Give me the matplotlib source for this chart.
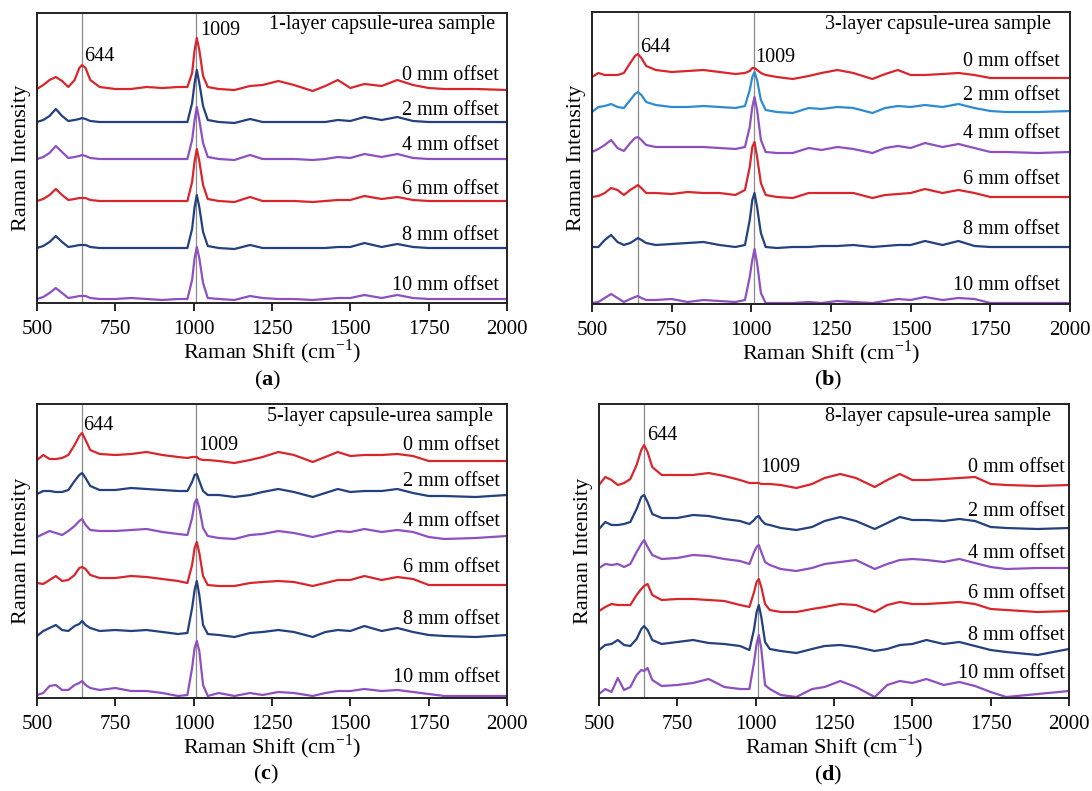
import matplotlib
matplotlib.use('Agg')
import matplotlib.pyplot as plt

plt.rcParams['font.family'] = ['Liberation Serif', 'DejaVu Serif']
plt.rcParams['mathtext.fontset'] = 'custom'
plt.rcParams['mathtext.rm'] = 'Liberation Serif'
plt.rcParams['mathtext.bf'] = 'Liberation Serif:bold'

# Raman shift knots (cm-1), shared by all spectra
shift = [500, 520, 540, 560, 580, 600, 620, 635, 644, 655, 670, 700, 750, 800,
         850, 900, 950, 980, 995, 1003, 1010, 1018, 1030, 1045, 1080, 1130,
         1180, 1220, 1270, 1320, 1380, 1420, 1460, 1500, 1545, 1600, 1650,
         1700, 1750, 1800, 1900, 2000]

offsets = ['0 mm offset', '2 mm offset', '4 mm offset',
           '6 mm offset', '8 mm offset', '10 mm offset']

# stacked intensities (arbitrary units), 0 mm ... 10 mm
spec_1layer = [
    [214, 218, 223, 226, 222, 216, 223, 235, 238, 235, 223, 216, 214, 214, 216, 215, 216, 216, 230, 253, 265, 253, 227, 216, 214, 213, 217, 218, 222, 218, 212, 217, 223, 215, 219, 217, 223, 218, 215, 214, 214, 213],
    [181, 183, 187, 194, 187, 182, 183, 184, 185, 184, 182, 181, 181, 181, 181, 181, 181, 181, 200, 220, 233, 220, 197, 183, 181, 180, 184, 181, 181, 181, 181, 181, 183, 182, 186, 183, 186, 182, 181, 181, 181, 181],
    [144, 146, 150, 157, 151, 145, 146, 147, 148, 147, 145, 144, 144, 144, 144, 144, 144, 144, 163, 183, 196, 183, 160, 146, 144, 143, 148, 144, 144, 144, 143, 144, 146, 145, 149, 146, 149, 145, 144, 144, 144, 144],
    [102, 104, 108, 114, 108, 103, 104, 105, 105, 105, 103, 102, 102, 102, 102, 102, 102, 102, 121, 142, 154, 142, 118, 104, 102, 101, 106, 102, 102, 102, 101, 102, 103, 103, 107, 104, 106, 103, 102, 102, 102, 102],
    [55, 57, 61, 67, 61, 56, 57, 58, 58, 58, 56, 55, 55, 55, 55, 55, 55, 55, 74, 96, 108, 96, 71, 57, 55, 54, 58, 55, 55, 55, 55, 55, 56, 56, 60, 56, 59, 56, 55, 55, 55, 55],
    [4, 6, 10, 15, 10, 5, 6, 7, 7, 7, 5, 4, 4, 5, 4, 3, 4, 4, 23, 45, 56, 45, 20, 5, 4, 3, 7, 5, 4, 4, 3, 4, 5, 5, 8, 5, 8, 5, 4, 4, 4, 4],
]
spec_3layer = [
    [227, 231, 229, 229, 229, 231, 241, 248, 250, 246, 238, 234, 232, 233, 234, 232, 230, 231, 233, 236, 236, 234, 231, 229, 227, 225, 228, 231, 234, 231, 225, 230, 234, 229, 229, 230, 231, 229, 226, 226, 226, 226],
    [192, 197, 198, 200, 197, 196, 204, 210, 212, 209, 202, 199, 197, 197, 198, 197, 196, 198, 214, 227, 232, 224, 204, 194, 192, 191, 196, 195, 197, 196, 191, 196, 198, 197, 199, 197, 200, 196, 193, 192, 192, 193],
    [152, 155, 159, 164, 156, 153, 161, 166, 167, 164, 159, 157, 157, 157, 157, 156, 155, 157, 177, 197, 207, 194, 164, 152, 151, 151, 156, 154, 157, 155, 151, 156, 158, 156, 161, 157, 160, 156, 152, 152, 151, 152],
    [107, 108, 111, 116, 114, 109, 114, 117, 119, 116, 111, 111, 110, 112, 111, 111, 109, 114, 137, 157, 162, 147, 121, 109, 107, 106, 111, 111, 111, 111, 106, 109, 110, 111, 115, 111, 114, 111, 107, 107, 107, 107],
    [57, 57, 64, 69, 62, 59, 61, 64, 66, 64, 61, 59, 60, 61, 62, 59, 57, 59, 84, 104, 111, 97, 71, 57, 56, 57, 57, 58, 58, 59, 57, 58, 59, 59, 63, 59, 63, 58, 57, 57, 57, 57],
    [1, 2, 6, 10, 6, 2, 5, 7, 8, 6, 4, 4, 5, 2, 4, 3, 2, 4, 27, 44, 55, 41, 11, 1, 1, 1, 2, 1, 3, 2, 1, 3, 5, 4, 7, 4, 6, 5, 1, 1, 1, 1],
]
spec_5layer = [
    [238, 243, 239, 239, 240, 243, 253, 262, 265, 258, 248, 244, 243, 244, 246, 243, 241, 240, 241, 241, 241, 239, 238, 238, 237, 235, 238, 241, 246, 243, 236, 241, 246, 242, 243, 243, 244, 242, 237, 237, 237, 237],
    [204, 207, 207, 206, 206, 208, 217, 223, 225, 220, 212, 208, 208, 210, 209, 208, 207, 207, 216, 223, 224, 217, 207, 203, 203, 201, 203, 206, 209, 206, 201, 205, 209, 206, 207, 207, 209, 205, 202, 202, 201, 203],
    [161, 164, 167, 165, 163, 167, 172, 177, 179, 173, 168, 167, 167, 168, 169, 166, 164, 163, 180, 195, 199, 190, 170, 162, 160, 159, 163, 164, 167, 165, 161, 164, 167, 166, 169, 166, 168, 166, 161, 159, 160, 162],
    [115, 114, 118, 122, 117, 118, 123, 130, 131, 129, 123, 120, 120, 122, 121, 119, 117, 115, 133, 150, 156, 145, 122, 113, 112, 112, 115, 116, 117, 116, 112, 115, 118, 118, 122, 118, 121, 119, 113, 113, 113, 113],
    [62, 67, 70, 73, 68, 67, 72, 74, 77, 73, 70, 67, 68, 67, 68, 66, 64, 65, 90, 108, 117, 103, 73, 64, 63, 61, 65, 66, 68, 66, 61, 66, 68, 67, 72, 67, 70, 66, 63, 62, 61, 63],
    [3, 5, 12, 13, 8, 8, 13, 15, 17, 13, 10, 8, 10, 7, 7, 5, 2, 3, 30, 50, 57, 47, 13, 2, 5, 2, 5, 3, 6, 5, 2, 5, 7, 7, 9, 7, 8, 6, 4, 2, 2, 2],
]
spec_8layer = [
    [213, 221, 218, 213, 215, 219, 233, 248, 253, 246, 231, 223, 223, 223, 225, 222, 218, 215, 215, 215, 215, 214, 214, 214, 213, 210, 214, 220, 224, 220, 211, 218, 224, 218, 218, 219, 220, 221, 214, 213, 212, 213],
    [169, 176, 173, 173, 174, 176, 189, 201, 203, 196, 184, 180, 180, 183, 182, 179, 177, 174, 178, 181, 182, 178, 174, 173, 170, 168, 171, 177, 181, 177, 169, 175, 181, 178, 178, 177, 179, 177, 171, 170, 169, 170],
    [130, 134, 133, 134, 131, 134, 146, 154, 158, 151, 143, 139, 140, 143, 142, 139, 137, 134, 146, 151, 153, 146, 136, 133, 129, 127, 130, 134, 136, 138, 129, 134, 138, 139, 138, 136, 139, 135, 131, 129, 130, 130],
    [87, 91, 94, 93, 93, 93, 103, 109, 112, 114, 103, 98, 99, 99, 98, 97, 93, 91, 106, 116, 119, 111, 94, 88, 86, 86, 89, 91, 94, 93, 86, 93, 96, 94, 94, 95, 96, 94, 89, 88, 86, 87],
    [48, 53, 54, 58, 53, 52, 59, 69, 72, 68, 58, 54, 56, 58, 55, 54, 52, 48, 69, 86, 93, 81, 56, 49, 47, 45, 49, 52, 53, 51, 47, 49, 53, 54, 58, 54, 56, 52, 48, 46, 43, 49],
    [4, 9, 6, 20, 8, 11, 23, 28, 27, 30, 18, 12, 13, 15, 19, 11, 9, 9, 36, 54, 63, 49, 13, 9, 3, 1, 9, 11, 17, 11, 1, 13, 17, 15, 19, 13, 16, 12, 6, 1, 4, 7],
]

titles = ['1-layer capsule-urea sample', '3-layer capsule-urea sample',
          '5-layer capsule-urea sample', '8-layer capsule-urea sample']
letters = ['a', 'b', 'c', 'd']
peak_lines = [644, 1009]

red, navy, purple, sky = '#d8262d', '#23407f', '#8e4fc0', '#2f8bd1'
colors = [
    [red, navy, purple, red, navy, purple],
    [red, sky, purple, red, navy, purple],
    [red, navy, purple, red, navy, purple],
    [red, navy, purple, red, navy, purple],
]

# layout, label placement (pixels / data units)
rects = [(37, 13, 470, 290), (592, 12, 478, 292), (37, 404, 470, 294), (599, 404, 470, 294)]
off_y = [[228, 193, 157, 114, 67, 17], [242, 209, 171, 124, 74, 18],
         [252, 217, 177, 130, 78, 20], [230, 187, 145, 104, 63, 25]]
off_x = [1973, 1967, 1976, 1987]
title_pos = [(1962, 279), (1940, 280), (1956, 282), (1942, 281)]
lab644 = [(649, 247), (651, 257), (647, 273), (653, 262)]
lab1009 = [(1020, 273), (1011, 247), (1013, 252), (1014, 231)]
letter_pos = [(268, 380), (828, 380), (266, 774), (828, 775)]

W, H = 1092, 791
fig = plt.figure(figsize=(W / 100, H / 100), dpi=100)

all_specs = [spec_1layer, spec_3layer, spec_5layer, spec_8layer]
for i, specs in enumerate(all_specs):
    x0, y0, w, h = rects[i]
    ax = fig.add_axes([x0 / W, 1 - (y0 + h) / H, w / W, h / H])
    for xv in peak_lines:
        ax.axvline(xv, color='#8a8a8a', lw=0.9, zorder=1)
    for k, s in enumerate(specs):
        ax.plot(shift, s, color=colors[i][k], lw=1.6, zorder=2)
        ax.text(off_x[i], off_y[i][k], offsets[k], ha='right', va='center', fontsize=14.5)
    ax.text(title_pos[i][0], title_pos[i][1], titles[i], ha='right', va='center', fontsize=14.5)
    ax.text(lab644[i][0], lab644[i][1], '644', ha='left', va='center', fontsize=14.5)
    ax.text(lab1009[i][0], lab1009[i][1], '1009', ha='left', va='center', fontsize=14.5)
    ax.set_xlim(500, 2000)
    ax.set_ylim(0, h)
    ax.set_xticks([500, 750, 1000, 1250, 1500, 1750, 2000])
    ax.set_yticks([])
    ax.tick_params(axis='x', direction='out', length=6, width=1.2, labelsize=15, pad=6)
    for sp in ax.spines.values():
        sp.set_linewidth(1.4)
        sp.set_color('#222222')
    ax.set_xlabel('Raman Shift (cm$^{-1}$)', fontsize=16, labelpad=-1)
    ax.set_ylabel('Raman Intensity', fontsize=16, labelpad=4)
    lx, ly = letter_pos[i]
    fig.text(lx / W, 1 - ly / H, '(' + r'$\mathbf{' + letters[i] + '}$' + ')',
             ha='center', va='center', fontsize=16)

fig.savefig('out.png', dpi=100)
